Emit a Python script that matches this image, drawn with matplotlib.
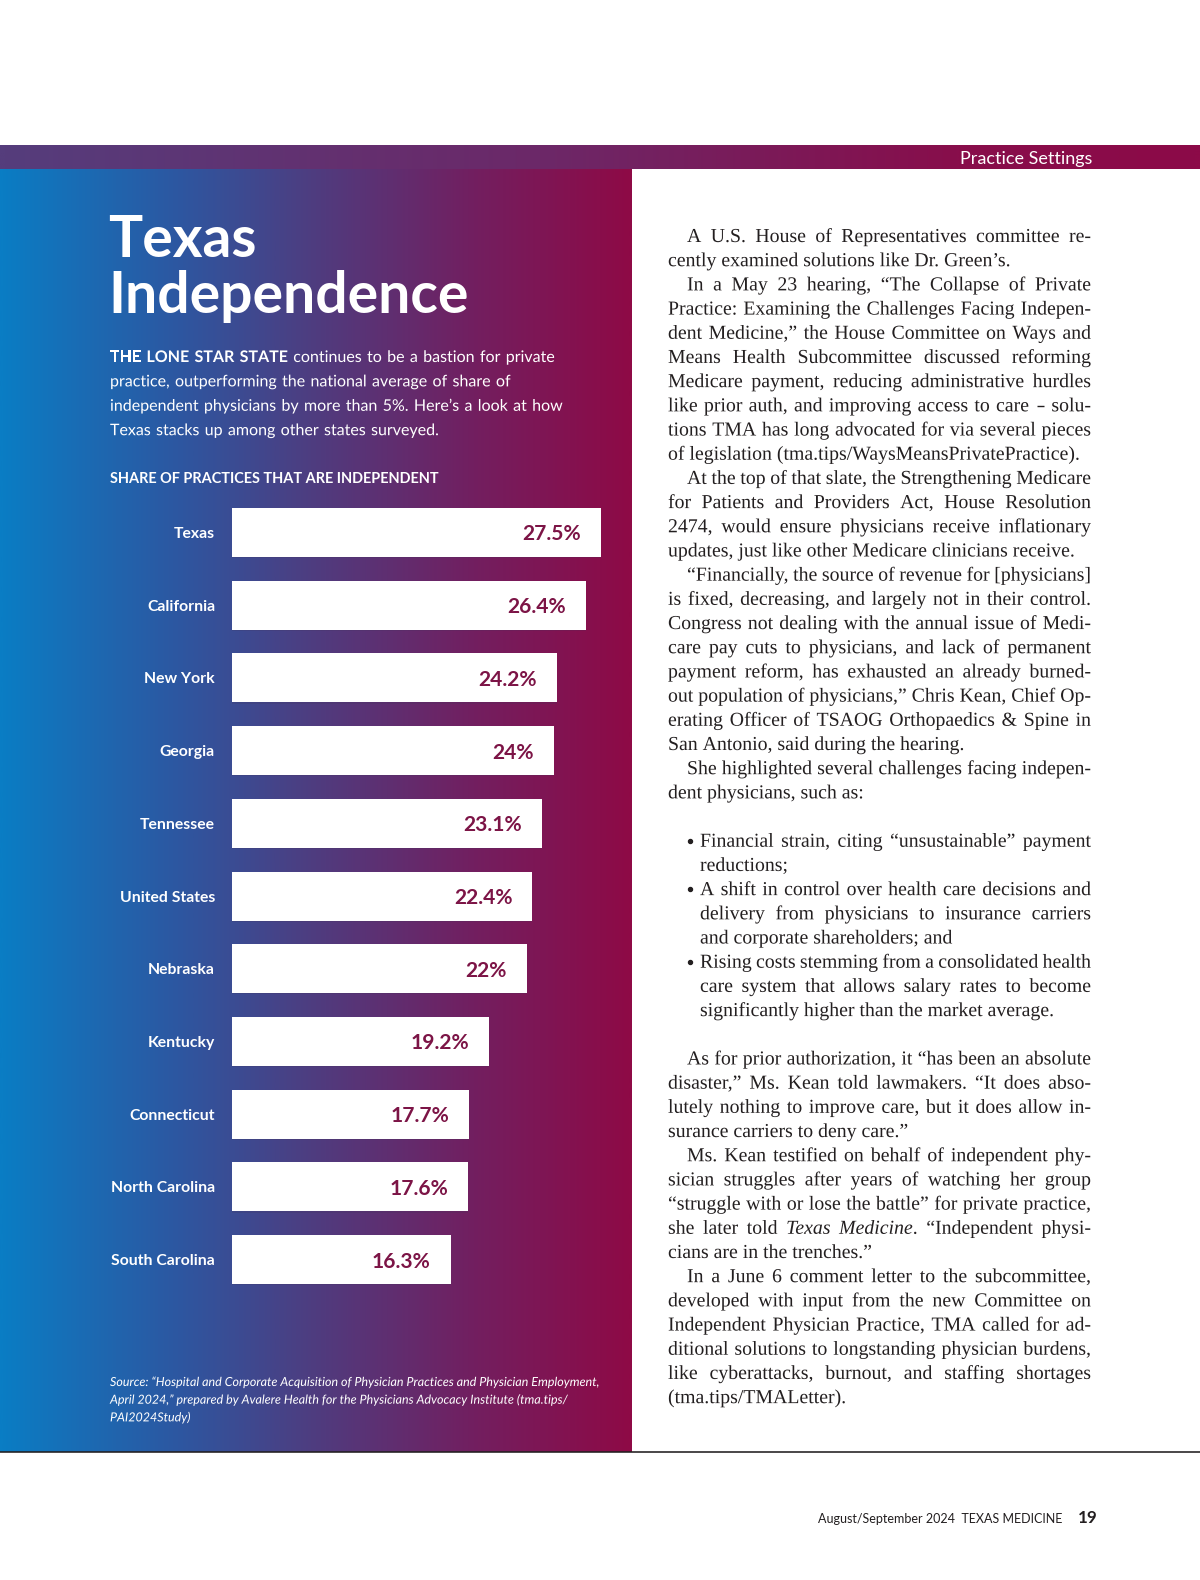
# page.py
# Page magazine "Texas Independence" : panneau dégradé + barres + colonne de texte

import numpy as np
import matplotlib.pyplot as plt
from matplotlib.colors import LinearSegmentedColormap
from matplotlib.font_manager import FontProperties
from matplotlib.textpath import TextPath
from matplotlib.patches import PathPatch
from matplotlib.transforms import Affine2D

# --- DONNEES ---
states = ["Texas", "California", "New York", "Georgia", "Tennessee", "United States",
          "Nebraska", "Kentucky", "Connecticut", "North Carolina", "South Carolina"]
shares = [27.5, 26.4, 24.2, 24.0, 23.1, 22.4, 22.0, 19.2, 17.7, 17.6, 16.3]
share_labels = ["27.5%", "26.4%", "24.2%", "24%", "23.1%", "22.4%", "22%",
                "19.2%", "17.7%", "17.6%", "16.3%"]

title_lines = ["Texas", "Independence"]
intro_lines = [
    "*THE LONE STAR STATE* continues to be a bastion for private",
    "practice, outperforming the national average of share of",
    "independent physicians by more than 5%. Here’s a look at how",
    "Texas stacks up among other states surveyed.",
]
chart_title = "SHARE OF PRACTICES THAT ARE INDEPENDENT"
source_lines = [
    "Source: “Hospital and Corporate Acquisition of Physician Practices and Physician Employment,",
    "April 2024,” prepared by Avalere Health for the Physicians Advocacy Institute (tma.tips/",
    "PAI2024Study)",
]

# P = début de paragraphe, L = suite, B = puce, BL = suite de puce, "" = ligne vide
body_lines = [
    ("P", "A U.S. House of Representatives committee re-"),
    ("L", "cently examined solutions like Dr. Green’s."),
    ("P", "In a May 23 hearing, “The Collapse of Private"),
    ("L", "Practice: Examining the Challenges Facing Indepen-"),
    ("L", "dent Medicine,” the House Committee on Ways and"),
    ("L", "Means Health Subcommittee discussed reforming"),
    ("L", "Medicare payment, reducing administrative hurdles"),
    ("L", "like prior auth, and improving access to care – solu-"),
    ("L", "tions TMA has long advocated for via several pieces"),
    ("L", "of legislation (tma.tips/WaysMeansPrivatePractice)."),
    ("P", "At the top of that slate, the Strengthening Medicare"),
    ("L", "for Patients and Providers Act, House Resolution"),
    ("L", "2474, would ensure physicians receive inflationary"),
    ("L", "updates, just like other Medicare clinicians receive."),
    ("P", "“Financially, the source of revenue for [physicians]"),
    ("L", "is fixed, decreasing, and largely not in their control."),
    ("L", "Congress not dealing with the annual issue of Medi-"),
    ("L", "care pay cuts to physicians, and lack of permanent"),
    ("L", "payment reform, has exhausted an already burned-"),
    ("L", "out population of physicians,” Chris Kean, Chief Op-"),
    ("L", "erating Officer of TSAOG Orthopaedics & Spine in"),
    ("L", "San Antonio, said during the hearing."),
    ("P", "She highlighted several challenges facing indepen-"),
    ("L", "dent physicians, such as:"),
    ("", ""),
    ("B", "Financial strain, citing “unsustainable” payment"),
    ("BL", "reductions;"),
    ("B", "A shift in control over health care decisions and"),
    ("BL", "delivery from physicians to insurance carriers"),
    ("BL", "and corporate shareholders; and"),
    ("B", "Rising costs stemming from a consolidated health"),
    ("BL", "care system that allows salary rates to become"),
    ("BL", "significantly higher than the market average."),
    ("", ""),
    ("P", "As for prior authorization, it “has been an absolute"),
    ("L", "disaster,” Ms. Kean told lawmakers. “It does abso-"),
    ("L", "lutely nothing to improve care, but it does allow in-"),
    ("L", "surance carriers to deny care.”"),
    ("P", "Ms. Kean testified on behalf of independent phy-"),
    ("L", "sician struggles after years of watching her group"),
    ("L", "“struggle with or lose the battle” for private practice,"),
    ("L", "she later told _Texas Medicine_. “Independent physi-"),
    ("L", "cians are in the trenches.”"),
    ("P", "In a June 6 comment letter to the subcommittee,"),
    ("L", "developed with input from the new Committee on"),
    ("L", "Independent Physician Practice, TMA called for ad-"),
    ("L", "ditional solutions to longstanding physician burdens,"),
    ("L", "like cyberattacks, burnout, and staffing shortages"),
    ("L", "(tma.tips/TMALetter)."),
]

# --- MISE EN PAGE ---
W, H = 1200, 1580
DPI = 100
SANS = ["Lato", "DejaVu Sans"]
SERIF = ["Liberation Serif", "DejaVu Serif"]
INK = "#231f20"
PLUM = "#7c1446"


def px(v):
    """Taille en pixels -> points."""
    return v * 72 / DPI


fig = plt.figure(figsize=(W / DPI, H / DPI), dpi=DPI)
fig.patch.set_facecolor("white")
ax = fig.add_axes([0, 0, 1, 1])

# dégradés (panneau gauche + bandeau)
grad = np.linspace(0, 1, 600).reshape(1, -1)
panel_cmap = LinearSegmentedColormap.from_list(
    "panel", [(0.0, "#0a7dc4"), (0.28, "#2d57a1"), (0.5, "#4f3c7f"),
              (0.75, "#721f60"), (1.0, "#8e0a46")])
header_cmap = LinearSegmentedColormap.from_list(
    "header", [(0.0, "#553d7c"), (0.45, "#6c2868"), (0.8, "#880e4b"), (1.0, "#8c0a48")])
ax.imshow(grad, cmap=panel_cmap, extent=[0, 632, 1452, 168], aspect="auto",
          interpolation="bilinear", zorder=0)
ax.imshow(grad, cmap=header_cmap, extent=[0, W, 169, 145], aspect="auto",
          interpolation="bilinear", zorder=0)
ax.plot([0, W], [1452, 1452], color=INK, lw=px(1.6), zorder=1)
ax.set_xlim(0, W)
ax.set_ylim(H, 0)
ax.axis("off")


def ext_w(s, prop, size):
    return TextPath((0, 0), s, size=size, prop=prop).get_extents().width


def advance(s, prop, size):
    # largeur d'avance (approx.) : n + mot + n moins nn
    return ext_w("n" + s + "n", prop, size) - ext_w("nn", prop, size)


def parse(line, family):
    """Découpe en mots ; * = gras, _ = italique."""
    bold, ital = False, False
    words = []
    for raw in line.split(" "):
        segs, buf = [], ""
        for ch in raw:
            if ch in "*_":
                if buf:
                    segs.append((buf, bold, ital))
                    buf = ""
                if ch == "*":
                    bold = not bold
                else:
                    ital = not ital
            else:
                buf += ch
        if buf:
            segs.append((buf, bold, ital))
        words.append([(t, FontProperties(family=family,
                                         weight="bold" if b else "normal",
                                         style="italic" if i else "normal"))
                      for t, b, i in segs])
    return words


def draw_line(x, y, line, family, size, color, width=None, justify=False,
              italic=False, space_scale=1.0):
    """Ligne de texte mot par mot (glyphes en chemins), justifiée si demandé."""
    if italic:
        line = "_" + line
    words = parse(line, family)
    base = FontProperties(family=family, style="italic" if italic else "normal")
    space = (ext_w("n n", base, size) - ext_w("nn", base, size)) * space_scale
    advs = [[advance(t, p, size) for t, p in w] for w in words]
    widths = [sum(a) for a in advs]
    gap = space
    if width is not None and len(words) > 1:
        natural = sum(widths) + space * (len(words) - 1)
        if justify or natural > width:
            gap = (width - sum(widths)) / (len(words) - 1)
    cx = x
    for segs, a in zip(words, advs):
        for (t, p), aw in zip(segs, a):
            if t == "–":
                # tiret dessiné à part
                ax.plot([cx + 0.08 * size, cx + aw - 0.08 * size], [y - 0.25 * size] * 2,
                        color=color, lw=px(0.07 * size), solid_capstyle="butt", zorder=3)
            else:
                pp = TextPath((0, 0), t, size=size, prop=p)
                tr = Affine2D().scale(1, -1).translate(cx, y) + ax.transData
                ax.add_patch(PathPatch(pp, transform=tr, facecolor=color,
                                       edgecolor="none", lw=0, zorder=3))
            cx += aw
        cx += gap


# --- PANNEAU GAUCHE ---
ax.text(1092, 164, "Practice Settings", family=SANS, fontsize=px(18), color="white",
        ha="right", va="baseline", zorder=3)

for k, t in enumerate(title_lines):
    ax.text(108, 257 + 56 * k, t, family=SANS, fontweight="bold", fontsize=px(57),
            color="white", ha="left", va="baseline", zorder=3)

for k, t in enumerate(intro_lines):
    draw_line(110, 362 + 24.4 * k, t, SANS, 16.0, "white", space_scale=1.3)

ax.text(110, 483, chart_title, family=SANS, fontweight="bold", fontsize=px(14.5),
        color="white", ha="left", va="baseline", zorder=3)

for k, t in enumerate(source_lines):
    draw_line(110, 1386 + 17.7 * k, t, SANS, 12.5, "white", italic=True)

# --- BARRES ---
n = len(states)
x0, px_per_pct = 232, 13.41
pitch, top_center, bar_h = 72.7, 532.5, 49
xmax = 30
ax_bar = fig.add_axes([x0 / W, 1 - (top_center + pitch * (n - 0.5)) / H,
                       xmax * px_per_pct / W, n * pitch / H])
ax_bar.set_xlim(0, xmax)
ax_bar.set_ylim(n - 0.5, -0.5)
ax_bar.axis("off")
ax_bar.patch.set_alpha(0)

ypos = np.arange(n)
ax_bar.barh(ypos + 1.2 / pitch, shares, height=bar_h / pitch, color=(0.25, 0.2, 0.35, 0.2),
            zorder=1)
ax_bar.barh(ypos, shares, height=bar_h / pitch, color="white", zorder=2)

for i in range(n):
    ax_bar.annotate(share_labels[i], xy=(shares[i], i), xytext=(-20, 0),
                    textcoords="offset pixels", ha="right", va="center_baseline",
                    family=SANS, fontweight="bold", fontsize=px(21), color=PLUM, zorder=3)
    ax_bar.annotate(states[i], xy=(0, i), xytext=(-17, 0), textcoords="offset pixels",
                    ha="right", va="center_baseline", family=SANS, fontweight="bold",
                    fontsize=px(15.8), color="white", zorder=3, annotation_clip=False)

# --- COLONNE DE TEXTE ---
col_left, col_right = 668, 1091
indent = 19
bullet_x, bullet_text_x = 690, 700
base0, lead = 242, 24.19
body_size = 19.8

for k, (kind, t) in enumerate(body_lines):
    if kind == "":
        continue
    y = base0 + lead * k
    nxt = body_lines[k + 1][0] if k + 1 < len(body_lines) else ""
    justify = nxt in ("L", "BL")
    if kind == "P":
        x = col_left + indent
    elif kind == "L":
        x = col_left
    else:
        x = bullet_text_x
    if kind == "B":
        ax.plot([bullet_x], [y - 6], "o", ms=px(4), color=INK, zorder=3)
    draw_line(x, y, t, SERIF, body_size, INK, width=col_right - x, justify=justify)

# --- PIED DE PAGE ---
ax.text(1062, 1523, "August/September 2024  TEXAS MEDICINE", family=SANS,
        fontsize=px(12.5), color=INK, ha="right", va="baseline")
ax.text(1078, 1523, "19", family=SANS, fontweight="bold", fontsize=px(17),
        color=INK, ha="left", va="baseline")

fig.savefig("out.png", dpi=DPI)
